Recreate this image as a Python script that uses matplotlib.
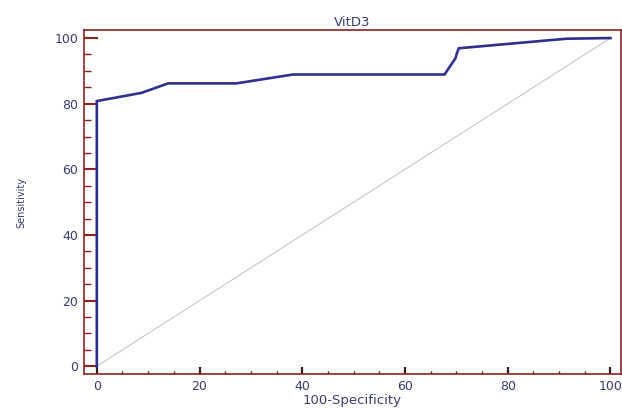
import matplotlib
matplotlib.use("Agg")
import matplotlib.pyplot as plt
from matplotlib.ticker import MultipleLocator

# ROC curve points
fpr = [0, 0, 8.7, 13.9, 27.2, 38.2, 67.7, 69.8, 70.2, 70.5, 91.4, 100]
tpr = [0, 80.8, 83.3, 86.2, 86.2, 88.9, 88.9, 93.8, 95.8, 96.9, 99.8, 100]
diag_x = [0, 100]
diag_y = [0, 100]

plt.rcParams['font.family'] = ['DejaVu Sans']

spine_col = "#8b2323"
text_col = "#3c3c6e"

fig = plt.figure(figsize=(6.22, 4.08), dpi=100)
ax = fig.add_axes([0.135, 0.083, 0.863, 0.843])

ax.plot(diag_x, diag_y, color="#c8c8c8", lw=0.8, zorder=1)
ax.plot(fpr, tpr, color="#30308f", lw=1.9, solid_joinstyle="miter", zorder=2)

ax.set_xlim(-2.5, 102)
ax.set_ylim(-2.4, 102.4)

ax.xaxis.set_major_locator(MultipleLocator(20))
ax.xaxis.set_minor_locator(MultipleLocator(5))
ax.yaxis.set_major_locator(MultipleLocator(20))
ax.yaxis.set_minor_locator(MultipleLocator(5))

for s in ax.spines.values():
    s.set_color(spine_col)
    s.set_linewidth(1.2)

ax.tick_params(axis="y", which="major", direction="in", length=10, width=1.5,
               color=spine_col, labelcolor=text_col, labelsize=9, pad=4)
ax.tick_params(axis="y", which="minor", direction="in", length=5, width=1,
               color=spine_col)
ax.tick_params(axis="x", which="major", direction="in", length=5, width=1.6,
               color="#3a1a1a", labelcolor=text_col, labelsize=9, pad=4)
ax.tick_params(axis="x", which="minor", direction="in", length=2.5, width=1,
               color="#3a1a1a")

ax.set_title("VitD3", fontsize=9.5, color=text_col, pad=3)
ax.set_xlabel("100-Specificity", fontsize=9.5, color=text_col, labelpad=1)
ax.set_ylabel("Sensitivity", fontsize=7, color=text_col, labelpad=20)

fig.savefig("out.png", dpi=100)
